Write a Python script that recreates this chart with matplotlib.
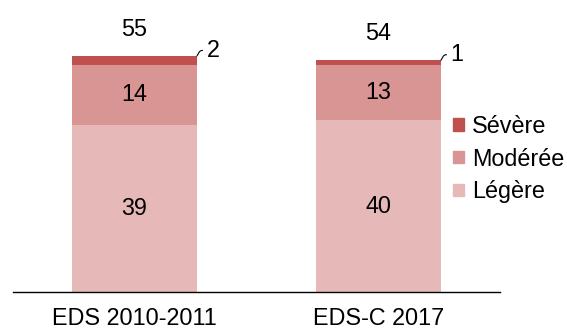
import matplotlib.pyplot as plt
from matplotlib.patches import Patch

plt.rcParams['font.family'] = ['Liberation Sans', 'DejaVu Sans']

surveys = ["EDS 2010-2011", "EDS-C 2017"]
legere = [39, 40]
moderee = [14, 13]
severe = [2, 1]
totals = [55, 54]

colors = {"Légère": "#E6B9B8", "Modérée": "#D99594", "Sévère": "#C0504D"}

fig = plt.figure(figsize=(5.67, 3.29), dpi=100)
ax = fig.add_axes([13 / 567, 37 / 329, 487 / 567, 292 / 329])

x = range(len(surveys))
w = 0.512
ax.bar(x, legere, w, color=colors["Légère"])
ax.bar(x, moderee, w, bottom=legere, color=colors["Modérée"])
base2 = [a + b for a, b in zip(legere, moderee)]
ax.bar(x, severe, w, bottom=base2, color=colors["Sévère"])

fs = 16.8
for i in x:
    ax.text(i, legere[i] / 2, str(legere[i]), ha="center", va="center", fontsize=fs)
    ax.text(i, legere[i] + moderee[i] / 2, str(moderee[i]), ha="center", va="center", fontsize=fs)
    ax.annotate(str(totals[i]), (i, totals[i]), xytext=(0, 19), textcoords="offset points",
                ha="center", va="center", fontsize=fs)
    # small leader line to the thin top segment
    ax.annotate(str(severe[i]), (i + w / 2, base2[i] + severe[i]), xytext=(7, 4),
                textcoords="offset points", ha="left", va="center", fontsize=fs,
                arrowprops=dict(arrowstyle="-", color="black", lw=0.8, shrinkA=1, shrinkB=0,
                                connectionstyle="angle,angleA=0,angleB=60,rad=2"))

ax.set_xlim(-0.498, 1.498)
ax.set_ylim(0, 292 * 55 / 236)
for s in ["top", "right", "left"]:
    ax.spines[s].set_visible(False)
ax.spines["bottom"].set_linewidth(1)
ax.set_yticks([])
ax.set_xticks(list(x))
ax.set_xticklabels(surveys, fontsize=fs)
ax.tick_params(axis="x", length=0, pad=11)

handles = [Patch(color=colors[k]) for k in ["Sévère", "Modérée", "Légère"]]
fig.legend(handles, ["Sévère", "Modérée", "Légère"], loc="center left",
           bbox_to_anchor=(453 / 567, 1 - 159 / 329), frameon=False, fontsize=fs,
           handlelength=0.45, handleheight=0.45, handletextpad=0.35, labelspacing=0.42,
           borderaxespad=0, borderpad=0)

fig.savefig("out.png", dpi=100)
